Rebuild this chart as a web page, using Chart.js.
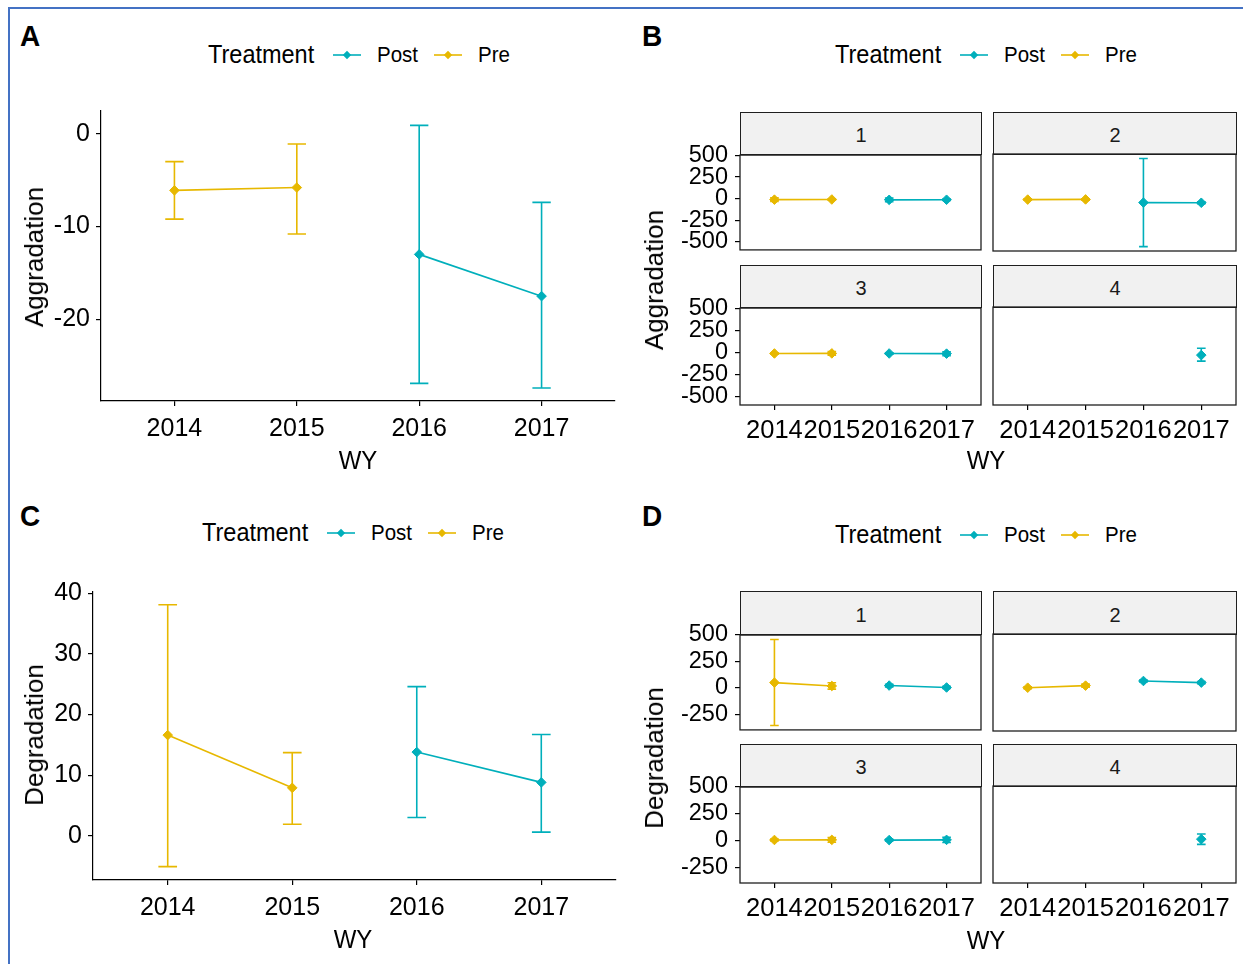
<!DOCTYPE html>
<html>
<head>
<meta charset="utf-8">
<script src="https://cdn.jsdelivr.net/npm/chart.js@4.4.0/dist/chart.umd.min.js"></script>
<style>
  html, body { margin: 0; padding: 0; background: #fff; }
  #fig { position: relative; width: 1243px; height: 964px; overflow: hidden;
         font-family: "Liberation Sans", Arial, sans-serif; color: #000; }
  .frame { position: absolute; left: 8px; top: 7px; width: 1300px; height: 1000px;
           border-left: 2px solid #4472c4; border-top: 2px solid #4472c4; }
  canvas { position: absolute; }
  .txt { position: absolute; white-space: nowrap; line-height: 1; }
  .strip { position: absolute; box-sizing: border-box; background: #f1f1f1;
           border: 1.3px solid #1f1f1f; color: #1a1a1a; font-size: 20px; padding-top: 4px;
           display: flex; align-items: center; justify-content: center; }
  svg.key { position: absolute; overflow: visible; }
</style>
</head>
<body>
<div id="fig">
  <div class="frame"></div>
  <canvas id="chartA"></canvas>
  <canvas id="chartC"></canvas>
</div>
<script>
const years = [2014, 2015, 2016, 2017];
const sites = ["1", "2", "3", "4"];

// A: aggradation, all sites
const aggPreMean = [-6.1, -5.8, null, null];
const aggPreLo = [-9.2, -10.8, null, null];
const aggPreHi = [-3.0, -1.1, null, null];
const aggPostMean = [null, null, -13.0, -17.5];
const aggPostLo = [null, null, -26.9, -27.4];
const aggPostHi = [null, null, 0.9, -7.4];

// C: degradation, all sites
const degPreMean = [16.6, 7.9, null, null];
const degPreLo = [-5.1, 1.9, null, null];
const degPreHi = [38.1, 13.7, null, null];
const degPostMean = [null, null, 13.8, 8.8];
const degPostLo = [null, null, 3.0, 0.6];
const degPostHi = [null, null, 24.6, 16.7];

// B: aggradation by site (rows = site 1..4)
const aggSitePreMean = [[-12, -10, null, null], [-12, -10, null, null], [-10, -9, null, null], [null, null, null, null]];
const aggSitePreLo = [[-34, -16, null, null], [-20, -18, null, null], [-18, -30, null, null], [null, null, null, null]];
const aggSitePreHi = [[10, -4, null, null], [-4, -2, null, null], [-2, 12, null, null], [null, null, null, null]];
const aggSitePostMean = [[null, null, -14, -13], [null, null, -46, -48], [null, null, -10, -12], [null, null, null, -35]];
const aggSitePostLo = [[null, null, -36, -20], [null, null, -545, -58], [null, null, -18, -34], [null, null, null, -102]];
const aggSitePostHi = [[null, null, 8, -6], [null, null, 454, -38], [null, null, -2, 10], [null, null, null, 42]];

// D: degradation by site
const degSitePreMean = [[50, 18, null, null], [3, 22, null, null], [5, 6, null, null], [null, null, null, null]];
const degSitePreLo = [[-355, -12, null, null], [-6, 8, null, null], [-4, -16, null, null], [null, null, null, null]];
const degSitePreHi = [[457, 48, null, null], [12, 36, null, null], [14, 28, null, null], [null, null, null, null]];
const degSitePostMean = [[null, null, 22, 4], [null, null, 65, 50], [null, null, 4, 6], [null, null, null, 8]];
const degSitePostLo = [[null, null, 10, -6], [null, null, 56, 40], [null, null, -4, -18], [null, null, null, -40]];
const degSitePostHi = [[null, null, 34, 14], [null, null, 74, 60], [null, null, 12, 30], [null, null, null, 55]];

const colPost = "#00AFBB";
const colPre = "#E7B800";

Chart.defaults.font.family = '"Liberation Sans", Arial, sans-serif';
Chart.defaults.color = "#000";

const fig = document.getElementById("fig");

// vertical bars with caps, drawn under the points
const errorBars = {
  id: "errorBars",
  beforeDatasetsDraw(chart) {
    const { ctx, scales: { x, y } } = chart;
    const half = x.getPixelForValue(years[0] + 0.075) - x.getPixelForValue(years[0]);
    chart.data.datasets.forEach((ds) => {
      if (!ds.errLo) return;
      ctx.save();
      ctx.strokeStyle = ds.borderColor;
      ctx.lineWidth = ds.borderWidth;
      ds.data.forEach((pt, i) => {
        if (pt.y == null || ds.errLo[i] == null) return;
        const px = x.getPixelForValue(pt.x);
        const lo = y.getPixelForValue(ds.errLo[i]);
        const hi = y.getPixelForValue(ds.errHi[i]);
        ctx.beginPath();
        ctx.moveTo(px, lo); ctx.lineTo(px, hi);
        ctx.moveTo(px - half, lo); ctx.lineTo(px + half, lo);
        ctx.moveTo(px - half, hi); ctx.lineTo(px + half, hi);
        ctx.stroke();
      });
      ctx.restore();
    });
  },
};

// full border round a facet panel
const panelBox = {
  id: "panelBox",
  afterDraw(chart, args, opts) {
    if (!opts.show) return;
    const { ctx, chartArea: a } = chart;
    ctx.save();
    ctx.strokeStyle = "#1f1f1f";
    ctx.lineWidth = 1.3;
    ctx.strokeRect(a.left, a.top, a.right - a.left, a.bottom - a.top);
    ctx.restore();
  },
};

function series(label, color, mean, lo, hi) {
  return {
    label,
    data: years.map((yr, i) => ({ x: yr, y: mean[i] })),
    errLo: lo,
    errHi: hi,
    borderColor: color,
    backgroundColor: color,
    borderWidth: 1.6,
    pointStyle: "rectRot",
    pointRadius: 4.8,
    pointBorderWidth: 1,
    pointBackgroundColor: color,
    tension: 0,
    spanGaps: false,
  };
}

function buildChart(cv, area, o) {
  const P = 20;
  const yW = o.showY ? 90 : 0;
  const xH = o.showX ? 45 : 0;
  const w = area.r - area.l + yW + 2 * P;
  const h = area.b - area.t + xH + 2 * P;
  cv.width = w; cv.height = h;
  cv.style.width = w + "px"; cv.style.height = h + "px";
  cv.style.left = (area.l - yW - P) + "px";
  cv.style.top = (area.t - P) + "px";

  const axisLine = { display: !o.boxed, color: "#000", width: 1.2 };
  const tickGrid = { display: true, drawOnChartArea: false, color: "#000", lineWidth: 1.2, tickLength: 5 };

  return new Chart(cv, {
    type: "line",
    data: { datasets: o.datasets },
    options: {
      responsive: false,
      animation: false,
      events: [],
      layout: { padding: P },
      plugins: { legend: { display: false }, tooltip: { enabled: false }, panelBox: { show: !!o.boxed } },
      scales: {
        x: {
          type: "linear", min: 2013.4, max: 2017.6,
          display: o.showX,
          afterBuildTicks: (s) => { s.ticks = years.map((v) => ({ value: v })); },
          afterFit: (s) => { s.height = xH; },
          border: axisLine,
          grid: tickGrid,
          ticks: { autoSkip: false, maxRotation: 0, minRotation: 0, padding: o.xPad, color: "#000",
                   font: { size: o.xFont }, callback: (v) => String(v) },
        },
        y: {
          type: "linear", min: o.yMin, max: o.yMax,
          display: o.showY,
          afterBuildTicks: (s) => { s.ticks = o.yTicks.map((v) => ({ value: v })); },
          afterFit: (s) => { s.width = yW; },
          border: axisLine,
          grid: tickGrid,
          ticks: { autoSkip: false, padding: o.yPad, color: "#000",
                   font: { size: o.yFont }, callback: (v) => String(v) },
        },
      },
    },
    plugins: [errorBars, panelBox],
  });
}

function placeText(txt, x, y, size, opts = {}) {
  const el = document.createElement("div");
  el.className = "txt";
  el.textContent = txt;
  el.style.fontSize = size + "px";
  el.style.left = x + "px";
  el.style.top = y + "px";
  const anchor = opts.left ? "translate(0,-50%)" : "translate(-50%,-50%)";
  el.style.transformOrigin = opts.left ? "0 50%" : "50% 50%";
  el.style.transform = anchor + (opts.rotate ? ` rotate(${opts.rotate}deg)` : " scaleY(1.08)");
  if (opts.bold) el.style.fontWeight = "bold";
  fig.appendChild(el);
}

function keyGlyph(x, yc, color) {
  const ns = "http://www.w3.org/2000/svg";
  const svg = document.createElementNS(ns, "svg");
  svg.setAttribute("class", "key");
  svg.setAttribute("width", 28);
  svg.setAttribute("height", 12);
  svg.style.left = x + "px";
  svg.style.top = (yc - 6) + "px";
  svg.innerHTML = `<line x1="0" y1="6" x2="28" y2="6" stroke="${color}" stroke-width="1.6"/>` +
    `<polygon points="14,1.8 18.2,6 14,10.2 9.8,6" fill="${color}"/>`;
  fig.appendChild(svg);
}

function legendRow(x0, yc) {
  placeText("Treatment", x0, yc, 23.5, { left: true });
  keyGlyph(x0 + 125, yc, colPost);
  placeText("Post", x0 + 169, yc, 20.5, { left: true });
  keyGlyph(x0 + 226, yc, colPre);
  placeText("Pre", x0 + 270, yc, 20.5, { left: true });
}

// single panels A and C
buildChart(document.getElementById("chartA"), { l: 101, t: 110, r: 615, b: 401 }, {
  showX: true, showY: true, xFont: 25, yFont: 25, yPad: 6, xPad: 8,
  yMin: -28.8, yMax: 2.45, yTicks: [-20, -10, 0],
  datasets: [
    series("Post", colPost, aggPostMean, aggPostLo, aggPostHi),
    series("Pre", colPre, aggPreMean, aggPreLo, aggPreHi),
  ],
});

buildChart(document.getElementById("chartC"), { l: 93, t: 591, r: 616, b: 880 }, {
  showX: true, showY: true, xFont: 25, yFont: 25, yPad: 6, xPad: 8,
  yMin: -7.3, yMax: 40.2, yTicks: [0, 10, 20, 30, 40],
  datasets: [
    series("Post", colPost, degPostMean, degPostLo, degPostHi),
    series("Pre", colPre, degPreMean, degPreLo, degPreHi),
  ],
});

// faceted panels B and D, 2 x 2 grid of sites
const facetCols = [{ l: 740, r: 981 }, { l: 993, r: 1236 }];

function facetGrid(rows, yMin, yMax, yTicks, pm, pl, ph, qm, ql, qh) {
  sites.forEach((name, k) => {
    const row = rows[Math.floor(k / 2)];
    const col = facetCols[k % 2];
    const strip = document.createElement("div");
    strip.className = "strip";
    strip.textContent = name;
    strip.style.left = col.l + "px";
    strip.style.top = row.strip + "px";
    strip.style.width = (col.r - col.l + 1) + "px";
    strip.style.height = (row.t - row.strip + 1) + "px";
    fig.appendChild(strip);

    const cv = document.createElement("canvas");
    fig.appendChild(cv);
    buildChart(cv, { l: col.l, t: row.t, r: col.r, b: row.b }, {
      showX: k >= 2, showY: k % 2 === 0, boxed: true,
      xFont: 25.5, yFont: 23.5, yPad: 7, xPad: 6,
      yMin, yMax, yTicks,
      datasets: [
        series("Post", colPost, qm[k], ql[k], qh[k]),
        series("Pre", colPre, pm[k], pl[k], ph[k]),
      ],
    });
  });
}

facetGrid([{ strip: 112, t: 154, b: 251 }, { strip: 265, t: 307, b: 405 }],
  -595, 505, [-500, -250, 0, 250, 500],
  aggSitePreMean, aggSitePreLo, aggSitePreHi, aggSitePostMean, aggSitePostLo, aggSitePostHi);

facetGrid([{ strip: 591, t: 634, b: 731 }, { strip: 744, t: 786, b: 883 }],
  -397, 499, [-250, 0, 250, 500],
  degSitePreMean, degSitePreLo, degSitePreHi, degSitePostMean, degSitePostLo, degSitePostHi);

// panel tags, legends and axis titles
placeText("A", 30, 36, 28, { bold: true });
placeText("B", 652, 36, 28, { bold: true });
placeText("C", 30, 516, 28, { bold: true });
placeText("D", 652, 516, 28, { bold: true });

legendRow(208, 55);
legendRow(835, 55);
legendRow(202, 533);
legendRow(835, 535);

placeText("Aggradation", 34, 257, 26, { rotate: -90 });
placeText("WY", 358, 460, 24);
placeText("Aggradation", 654, 280, 26, { rotate: -90 });
placeText("WY", 986, 460, 24);
placeText("Degradation", 34, 735, 26, { rotate: -90 });
placeText("WY", 353, 939, 24);
placeText("Degradation", 654, 758, 26, { rotate: -90 });
placeText("WY", 986, 940, 24);
</script>
</body>
</html>
